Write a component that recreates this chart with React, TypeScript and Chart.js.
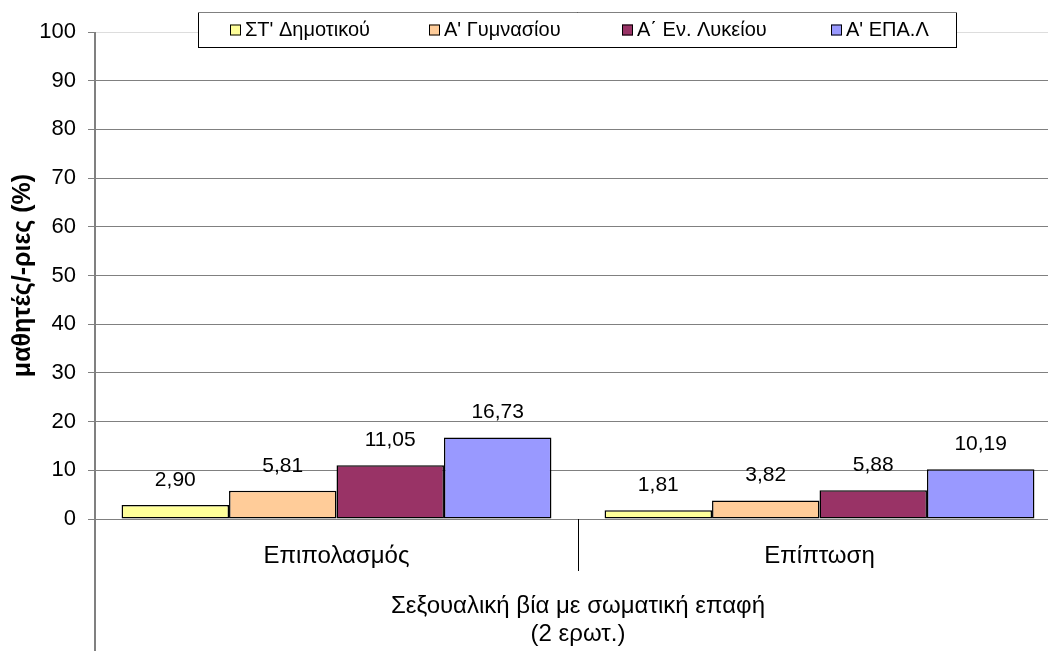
import React, { useEffect, useRef } from 'react';
import { Chart, registerables } from 'chart.js';

Chart.register(...registerables);

const categories = ['Επιπολασμός', 'Επίπτωση'];
const seriesNames = ["ΣΤ' Δημοτικού", "Α' Γυμνασίου", 'Α΄ Εν. Λυκείου', "Α' ΕΠΑ.Λ"];
const dimotikou = [2.9, 1.81];
const gymnasiou = [5.81, 3.82];
const lykeiou = [11.05, 5.88];
const epal = [16.73, 10.19];
const seriesColors = ['#FFFF99', '#FFCC99', '#993366', '#9999FF'];
const groupTitle = ['Σεξουαλική βία με σωματική επαφή', '(2 ερωτ.)'];
const yTitle = 'μαθητές/-ριες (%)';
const yMin = 0;
const yMax = 100;
const yStep = 10;

const FONT = "'Liberation Sans', Arial, sans-serif";

const extrasPlugin = {
  id: 'extras',
  afterDraw(chart: any) {
    const { ctx, chartArea } = chart;
    const xs = chart.scales.x;
    ctx.save();
    // y axis line extended down
    ctx.strokeStyle = '#808080';
    ctx.lineWidth = 2;
    ctx.beginPath();
    ctx.moveTo(chartArea.left, chartArea.top);
    ctx.lineTo(chartArea.left, chart.height);
    ctx.stroke();
    // category dividers
    ctx.strokeStyle = '#000';
    ctx.lineWidth = 1;
    const n = categories.length;
    const w = (xs.right - xs.left) / n;
    for (let i = 1; i <= n; i++) {
      const x = Math.round(xs.left + i * w) + 0.5;
      ctx.beginPath();
      ctx.moveTo(x, chartArea.bottom);
      ctx.lineTo(x, chartArea.bottom + 52);
      ctx.stroke();
    }
    // data labels
    ctx.fillStyle = '#000';
    ctx.font = `21px ${FONT}`;
    ctx.textAlign = 'center';
    ctx.textBaseline = 'middle';
    chart.data.datasets.forEach((ds: any, di: number) => {
      const meta = chart.getDatasetMeta(di);
      meta.data.forEach((bar: any, i: number) => {
        const v = ds.data[i];
        ctx.fillText(v.toFixed(2).replace('.', ','), bar.x, bar.y - 25);
      });
    });
    // legend
    const lx = 198, ly = 12, lw = 758, lh = 35;
    ctx.fillStyle = '#fff';
    ctx.fillRect(lx, ly, lw, lh);
    ctx.strokeStyle = '#000';
    ctx.lineWidth = 1;
    ctx.strokeRect(lx + 0.5, ly + 0.5, lw, lh);
    ctx.strokeStyle = '#808080';
    ctx.beginPath();
    ctx.moveTo(lx, ly + 0.5);
    ctx.lineTo(lx + lw + 1, ly + 0.5);
    ctx.stroke();
    const itemX = [230, 429, 622, 831];
    ctx.font = `20px ${FONT}`;
    ctx.textAlign = 'left';
    chart.data.datasets.forEach((ds: any, di: number) => {
      const x = itemX[di];
      const cy = ly + lh / 2;
      ctx.fillStyle = ds.backgroundColor;
      ctx.fillRect(x, cy - 5, 11, 11);
      ctx.strokeStyle = '#000';
      ctx.strokeRect(x + 0.5, cy - 4.5, 10, 10);
      ctx.fillStyle = '#000';
      ctx.fillText(ds.label, x + 15, cy + 1);
    });
    ctx.restore();
  },
};

export default function App() {
  const ref = useRef<HTMLCanvasElement | null>(null);
  useEffect(() => {
    if (!ref.current) return;
    const data = [dimotikou, gymnasiou, lykeiou, epal];
    const chart = new Chart(ref.current, {
      type: 'bar',
      data: {
        labels: categories,
        datasets: seriesNames.map((name, i) => ({
          label: name,
          data: data[i],
          backgroundColor: seriesColors[i],
          borderColor: '#000',
          borderWidth: 1.5,
          borderSkipped: false,
          barPercentage: 1,
          categoryPercentage: 0.89,
        })),
      },
      options: {
        responsive: false,
        animation: false,
        layout: { padding: { top: 32, right: 9, left: 0, bottom: 0 } },
        plugins: { legend: { display: false }, tooltip: { enabled: false } },
        scales: {
          x: {
            grid: { display: false },
            border: { display: false },
            ticks: { color: '#000', font: { family: FONT, size: 24 }, padding: 15 },
            title: {
              display: true,
              text: groupTitle,
              color: '#000',
              font: { family: FONT, size: 24, lineHeight: 28 / 24 },
              padding: { top: 0, bottom: 3 },
            },
            afterFit: (s: any) => { s.height = 132; },
          },
          y: {
            min: yMin,
            max: yMax,
            ticks: { stepSize: yStep, color: '#000', font: { family: FONT, size: 22 }, padding: 12 },
            grid: {
              color: (c: any) => (c.tick && c.tick.value === yMax ? '#dddddd' : '#808080'),
              tickColor: '#808080',
              tickLength: 7,
              lineWidth: 1,
            },
            border: { display: false },
            title: {
              display: true,
              text: yTitle,
              color: '#000',
              font: { family: FONT, size: 25, weight: 'bold' },
              padding: { top: 8, bottom: 0 },
            },
            afterFit: (s: any) => { s.width = 95; },
          },
        },
      },
      plugins: [extrasPlugin],
    });
    return () => chart.destroy();
  }, []);
  return (
    <div style={{ position: 'absolute', left: 0, top: 0, width: 1048, height: 651, overflow: 'hidden', background: '#fff' }}>
      <canvas ref={ref} width={1070} height={651} />
    </div>
  );
}
